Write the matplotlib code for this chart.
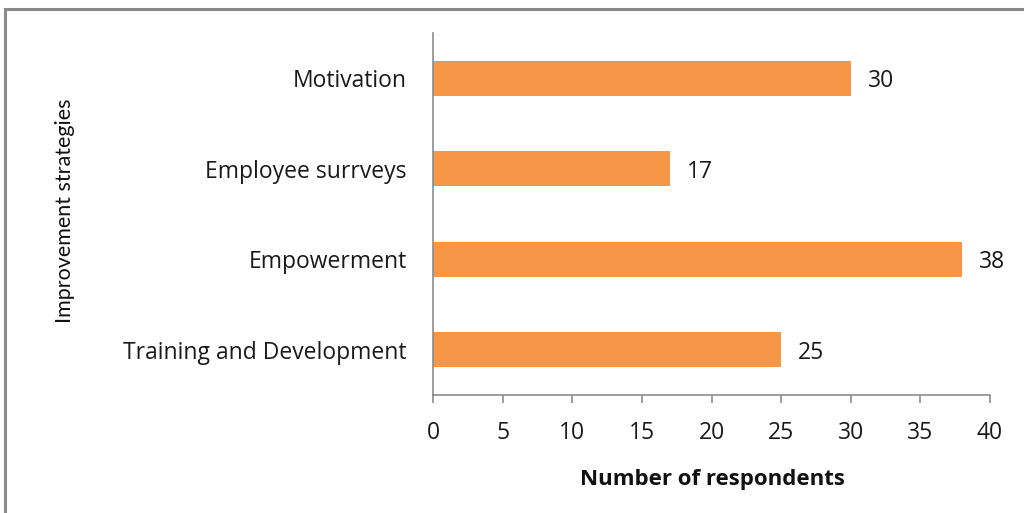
import matplotlib.pyplot as plt
from matplotlib.patches import Rectangle

strategies = ['Training and Development', 'Empowerment', 'Employee surrveys', 'Motivation']
respondents = [25, 38, 17, 30]

bar_color = '#F79646'
axis_color = '#8C8C8C'
text_color = '#1a1a1a'

plt.rcParams['font.family'] = ['Open Sans', 'DejaVu Sans']

fig = plt.figure(figsize=(10.24, 5.13), dpi=100)
ax = fig.add_axes([433 / 1024, 1 - 395 / 513, 557 / 1024, 362 / 513])

# outer frame of the chart area
fig.patches.append(Rectangle((5 / 1024, -0.2), 1.2, 1.2 - 9 / 513,
                             transform=fig.transFigure, fill=False,
                             edgecolor='#8A8A8A', linewidth=2.2))

index = range(len(strategies))
ax.barh(index, respondents, height=0.39, color=bar_color)

for i, v in enumerate(respondents):
    ax.text(v + 1.2, i, str(v), va='center_baseline', ha='left', fontsize=16.5,
            color=text_color)

ax.set_xlim(0, 40)
ax.set_ylim(-0.5, 3.5)
ax.set_xticks(range(0, 41, 5))
ax.set_yticks(list(index))
ax.set_yticklabels(strategies, va='center_baseline')

for side in ('top', 'right'):
    ax.spines[side].set_visible(False)
for side in ('left', 'bottom'):
    ax.spines[side].set_color(axis_color)
    ax.spines[side].set_linewidth(1.2)

ax.tick_params(axis='x', direction='out', length=6, width=1.2, color=axis_color,
               pad=13, labelsize=16.5, labelcolor=text_color)
ax.tick_params(axis='y', length=0, pad=19, labelsize=16.5, labelcolor=text_color)

fig.text(712 / 1024, 1 - 479 / 513, 'Number of respondents', ha='center', va='center',
         fontsize=16, fontweight='bold', color='#111111')
fig.text(65 / 1024, 1 - 211 / 513, 'Improvement strategies', ha='center', va='center',
         rotation=90, fontsize=15.5, color='#111111', family=['Lato', 'DejaVu Sans'])

fig.savefig('out.png', dpi=100, facecolor='white')
plt.close(fig)
